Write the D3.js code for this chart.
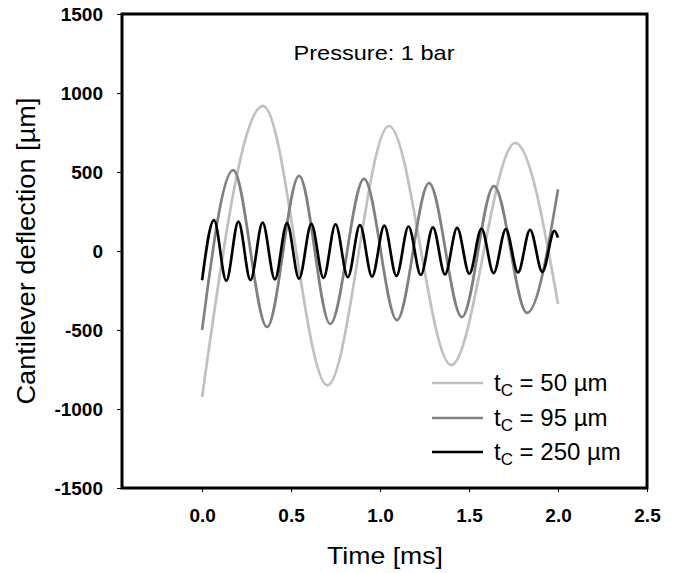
<!DOCTYPE html>
<html><head><meta charset="utf-8">
<script src="https://cdn.jsdelivr.net/npm/d3@7"></script>
<style>body{margin:0;background:#fff}svg{display:block}</style>
</head><body>
<script>
// Data (extrema and end points), time in ms, deflection in µm
const t50 = [0.0, 0.343, 0.705, 1.05, 1.40, 1.76, 2.0];
const v50 = [-924, 918, -850, 791, -722, 684, -335];

const t95 = [0.0, 0.175, 0.365, 0.545, 0.72, 0.91, 1.095, 1.275, 1.46, 1.64, 1.826, 2.0];
const v95 = [-500, 512, -481, 475, -462, 456, -437, 430, -418, 411, -392, 390];

const t250 = [0.0, 0.067, 0.136, 0.204, 0.272, 0.340, 0.409, 0.477, 0.545, 0.614, 0.682, 0.750, 0.819, 0.887, 0.955,
              1.024, 1.092, 1.160, 1.229, 1.297, 1.365, 1.433, 1.502, 1.570, 1.638, 1.707, 1.775, 1.843, 1.912, 1.980, 2.0];
const v250 = [-185, 196, -188, 186, -184, 180, -180, 176, -175, 172, -170, 168, -166, 164, -162,
              160, -158, 155, -152, 150, -148, 146, -144, 142, -140, 138, -136, 134, -132, 128, 85];

const seriesNames = ["50", "95", "250"];
const seriesColors = ["#c0c0c0", "#808080", "#000000"];
const xTicks = [0.0, 0.5, 1.0, 1.5, 2.0, 2.5];
const yTicks = [-1500, -1000, -500, 0, 500, 1000, 1500];

const W = 682, H = 573;
const L = 122, R = 647, T = 14, B = 488;

const svg = d3.select("body").append("svg").attr("width", W).attr("height", H);
const x = d3.scaleLinear().domain([-0.45, 2.5]).range([L, R]);
const y = d3.scaleLinear().domain([-1500, 1500]).range([B, T]);

const font = "'Liberation Sans', Arial, sans-serif";

// Lines
const series = [[t50, v50], [t95, v95], [t250, v250]];
const line = d3.line().x(d => x(d[0])).y(d => y(d[1])).curve(d3.curveMonotoneX);
const g = svg.append("g");
series.forEach((s, i) => {
  const pts = s[0].map((t, j) => [t, s[1][j]]);
  g.append("path").datum(pts).attr("d", line)
    .attr("fill", "none").attr("stroke", seriesColors[i])
    .attr("stroke-width", 2.7);
});

// Axes
const xAxis = d3.axisBottom(x).tickValues(xTicks).tickFormat(d => d.toFixed(1)).tickSizeOuter(0).tickSizeInner(4).tickPadding(17);
const yAxis = d3.axisLeft(y).tickValues(yTicks).tickFormat(d => String(d)).tickSizeOuter(0).tickSizeInner(5).tickPadding(14);

const gx = svg.append("g").attr("transform", `translate(0,${B})`).call(xAxis);
const gy = svg.append("g").attr("transform", `translate(${L},0)`).call(yAxis);
[gx, gy].forEach(a => {
  a.select(".domain").remove();
  a.selectAll(".tick line").attr("stroke", "#000").attr("stroke-width", 1);
  a.selectAll(".tick text").attr("font-family", font).attr("font-weight", "bold")
    .attr("font-size", 19).attr("fill", "#000");
});

// Frame
svg.append("rect").attr("x", L).attr("y", T).attr("width", R - L).attr("height", B - T)
  .attr("fill", "none").attr("stroke", "#000").attr("stroke-width", 3);

// Title inside
svg.append("text").attr("x", 374).attr("y", 60).attr("text-anchor", "middle")
  .attr("font-family", font).attr("font-size", 21)
  .attr("textLength", 161).attr("lengthAdjust", "spacingAndGlyphs").text("Pressure: 1 bar");

// Axis titles
svg.append("text").attr("x", 385).attr("y", 564).attr("text-anchor", "middle")
  .attr("font-family", font).attr("font-size", 24)
  .attr("textLength", 116).attr("lengthAdjust", "spacingAndGlyphs").text("Time [ms]");
svg.append("text").attr("transform", `translate(35,251) rotate(-90)`).attr("text-anchor", "middle")
  .attr("font-family", font).attr("font-size", 25)
  .attr("textLength", 307).attr("lengthAdjust", "spacingAndGlyphs").text("Cantilever deflection [µm]");

// Legend
const legY = [383, 418, 452];
seriesNames.forEach((n, i) => {
  svg.append("line").attr("x1", 432).attr("x2", 483).attr("y1", legY[i]).attr("y2", legY[i])
    .attr("stroke", seriesColors[i]).attr("stroke-width", 2.7);
  const tx = svg.append("text").attr("x", 494).attr("y", legY[i] + 8)
    .attr("font-family", font).attr("font-size", 24);
  tx.append("tspan").text("t");
  tx.append("tspan").attr("font-size", 17).attr("dy", 5).text("C");
  tx.append("tspan").attr("dy", -5).text(` = ${n} µm`);
});
</script>
</body></html>
